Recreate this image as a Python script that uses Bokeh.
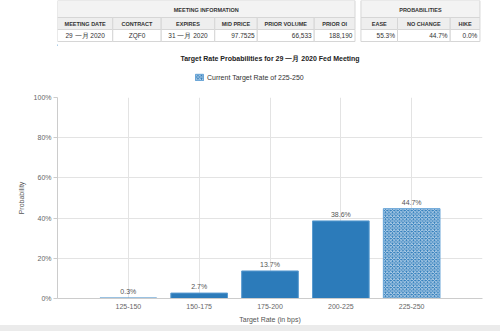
from bokeh.plotting import figure
from bokeh.models import (Range1d, FixedTicker, PrintfTickFormatter, ColumnDataSource,
                          Legend, LegendItem, Spacer)
from bokeh.layouts import column
from bokeh.embed import file_html
from bokeh.resources import INLINE
from bokeh.core.properties import value

# ---------------- data ----------------
meeting_headers = ["MEETING DATE", "CONTRACT", "EXPIRES", "MID PRICE", "PRIOR VOLUME", "PRIOR OI"]
meeting_values = ["29 一月 2020", "ZQF0", "31 一月 2020", "97.7525", "66,533", "188,190"]
prob_headers = ["EASE", "NO CHANGE", "HIKE"]
prob_values = [55.3, 44.7, 0.0]
rates = ["125-150", "150-175", "175-200", "200-225", "225-250"]
probs = [0.3, 2.7, 13.7, 38.6, 44.7]
current_rate = "225-250"
meeting_date = "29 一月 2020"
y_ticks = [0, 20, 40, 60, 80, 100]

# ---------------- styles / layout ----------------
FONT = "Liberation Sans"
BLUE = "#2c7bba"
GRID = "#e3e3e3"
meeting_edges = [0, 65, 122, 185, 235, 302, 350]
meeting_align = ["center", "center", "center", "right", "right", "right"]
prob_edges = [357, 400, 462, 497]
prob_align = ["right", "right", "right"]
ROW = [0, 17, 29, 41]
CUR_STYLE = dict(fill_color=BLUE, line_color="#6aa6d8", line_width=1,
                 hatch_pattern="diagonal_cross", hatch_color="#d6e6f4",
                 hatch_scale=3.5, hatch_weight=0.9, hatch_alpha=0.9)

# ---------------- table ----------------
t = figure(width=500, height=44, x_range=Range1d(0, 500), y_range=Range1d(44, 0),
           output_backend="svg", toolbar_location=None, min_border=0)
t.axis.visible = False
t.grid.visible = False
t.outline_line_color = None

def table_block(edges, headers, vals, aligns, group_title):
    t.quad(left=[edges[0]], right=[edges[-1]], top=[ROW[0]], bottom=[ROW[1]],
           fill_color="#f3f3f3", line_color="#d6d6d6", line_width=1)
    t.text(x=[(edges[0] + edges[-1]) / 2], y=[(ROW[0] + ROW[1]) / 2 + 1], text=[group_title],
           text_align="center", text_baseline="middle", text_font=value(FONT),
           text_font_size="5.5px", text_font_style="bold", text_color="#333333")
    lefts = edges[:-1]
    rights = edges[1:]
    t.quad(left=lefts, right=rights, top=[ROW[1]] * len(lefts), bottom=[ROW[2]] * len(lefts),
           fill_color="#eeeeee", line_color="#d6d6d6", line_width=1)
    t.quad(left=lefts, right=rights, top=[ROW[2]] * len(lefts), bottom=[ROW[3]] * len(lefts),
           fill_color="#ffffff", line_color="#d6d6d6", line_width=1)
    t.text(x=[(a + b) / 2 for a, b in zip(lefts, rights)], y=[(ROW[1] + ROW[2]) / 2] * len(lefts),
           text=headers, text_align="center", text_baseline="middle", text_font=value(FONT),
           text_font_size="5.5px", text_font_style="bold", text_color="#333333")
    for a, b, v, al in zip(lefts, rights, vals, aligns):
        xx = (a + b) / 2 if al == "center" else b - 3
        t.text(x=[xx], y=[(ROW[2] + ROW[3]) / 2], text=[v], text_align=al,
               text_baseline="middle", text_font=value(FONT), text_font_size="6.5px",
               text_color="#333333")

table_block(meeting_edges, meeting_headers, meeting_values, meeting_align, "MEETING INFORMATION")
table_block(prob_edges, prob_headers, [f"{v:.1f}%" for v in prob_values], prob_align, "PROBABILITIES")

# ---------------- header (title + legend) ----------------
h = figure(width=500, height=47, x_range=Range1d(0, 500), y_range=Range1d(47, 0),
           output_backend="svg", toolbar_location=None, min_border=0)
h.axis.visible = False
h.grid.visible = False
h.outline_line_color = None
h.text(x=[250], y=[14], text=[f"Target Rate Probabilities for {meeting_date} Fed Meeting"],
       text_align="center", text_baseline="middle", text_font=value(FONT),
       text_font_size="7px", text_font_style="bold", text_color="#222222")
# legend swatch renderer kept outside the visible range; only its legend glyph shows
swatch = h.vbar(x=[-100], top=[0], bottom=[1], width=1, **CUR_STYLE)
legend = Legend(items=[LegendItem(label=value(f"Current Target Rate of {current_rate}"),
                                  renderers=[swatch])],
                location=(137, 10), orientation="horizontal", glyph_width=10, glyph_height=8,
                label_text_font=FONT, label_text_font_size="7px", label_height=8,
                label_standoff=3, padding=0, margin=0, border_line_alpha=0,
                background_fill_alpha=0, label_text_color="#333333")
h.add_layout(legend)

# ---------------- chart ----------------
n = len(rates)
p = figure(width=500, height=234, x_range=Range1d(-1, n), y_range=Range1d(0, 100),
           output_backend="svg", toolbar_location=None,
           min_border_left=57, min_border_right=18, min_border_top=6, min_border_bottom=24)
p.outline_line_color = None

xs = list(range(n))
idx_n = [i for i, r in enumerate(rates) if r != current_rate]
idx_c = [i for i, r in enumerate(rates) if r == current_rate]
src_n = ColumnDataSource(dict(x=[xs[i] for i in idx_n], top=[probs[i] for i in idx_n]))
src_c = ColumnDataSource(dict(x=[xs[i] for i in idx_c], top=[probs[i] for i in idx_c]))

p.vbar(x="x", top="top", width=0.8, source=src_n, fill_color=BLUE, line_color="#5a9bd0",
       line_width=1)
p.vbar(x="x", top="top", width=0.8, source=src_c, **CUR_STYLE)

p.text(x=xs, y=probs, text=[f"{v:.1f}%" for v in probs], text_align="center",
       text_baseline="bottom", y_offset=-3, text_font=value(FONT), text_font_size="7px",
       text_color="#555555")

p.xaxis.ticker = FixedTicker(ticks=xs)
p.xaxis.major_label_overrides = {i: r for i, r in enumerate(rates)}
p.xgrid.ticker = FixedTicker(ticks=list(range(-1, n + 1)))
p.yaxis.ticker = FixedTicker(ticks=y_ticks)
p.yaxis.formatter = PrintfTickFormatter(format="%d%%")
p.ygrid.ticker = FixedTicker(ticks=y_ticks)
p.grid.grid_line_color = GRID

for ax in (p.xaxis[0], p.yaxis[0]):
    ax.axis_line_color = "#cccccc"
    ax.major_tick_line_color = "#cccccc"
    ax.minor_tick_line_color = None
    ax.major_label_text_font = FONT
    ax.major_label_text_font_size = "7px"
    ax.major_label_text_color = "#666666"
    ax.axis_label_text_font = FONT
    ax.axis_label_text_font_size = "7px"
    ax.axis_label_text_font_style = "normal"
    ax.axis_label_text_color = "#555555"
    ax.major_tick_in = 0
p.xaxis.major_tick_out = 0
p.yaxis.major_tick_out = 4
p.xaxis.major_label_standoff = 5
p.yaxis.major_label_standoff = 2
p.xaxis.axis_label = "Target Rate (in bps)"
p.yaxis.axis_label = "Probability"
p.xaxis.axis_label_standoff = 4
p.yaxis.axis_label_standoff = 6

footer = Spacer(width=500, height=6, styles={"background-color": "#ebebeb"})

layout = column(t, h, p, footer, spacing=0)
open("out.html", "w").write(file_html(layout, INLINE))
